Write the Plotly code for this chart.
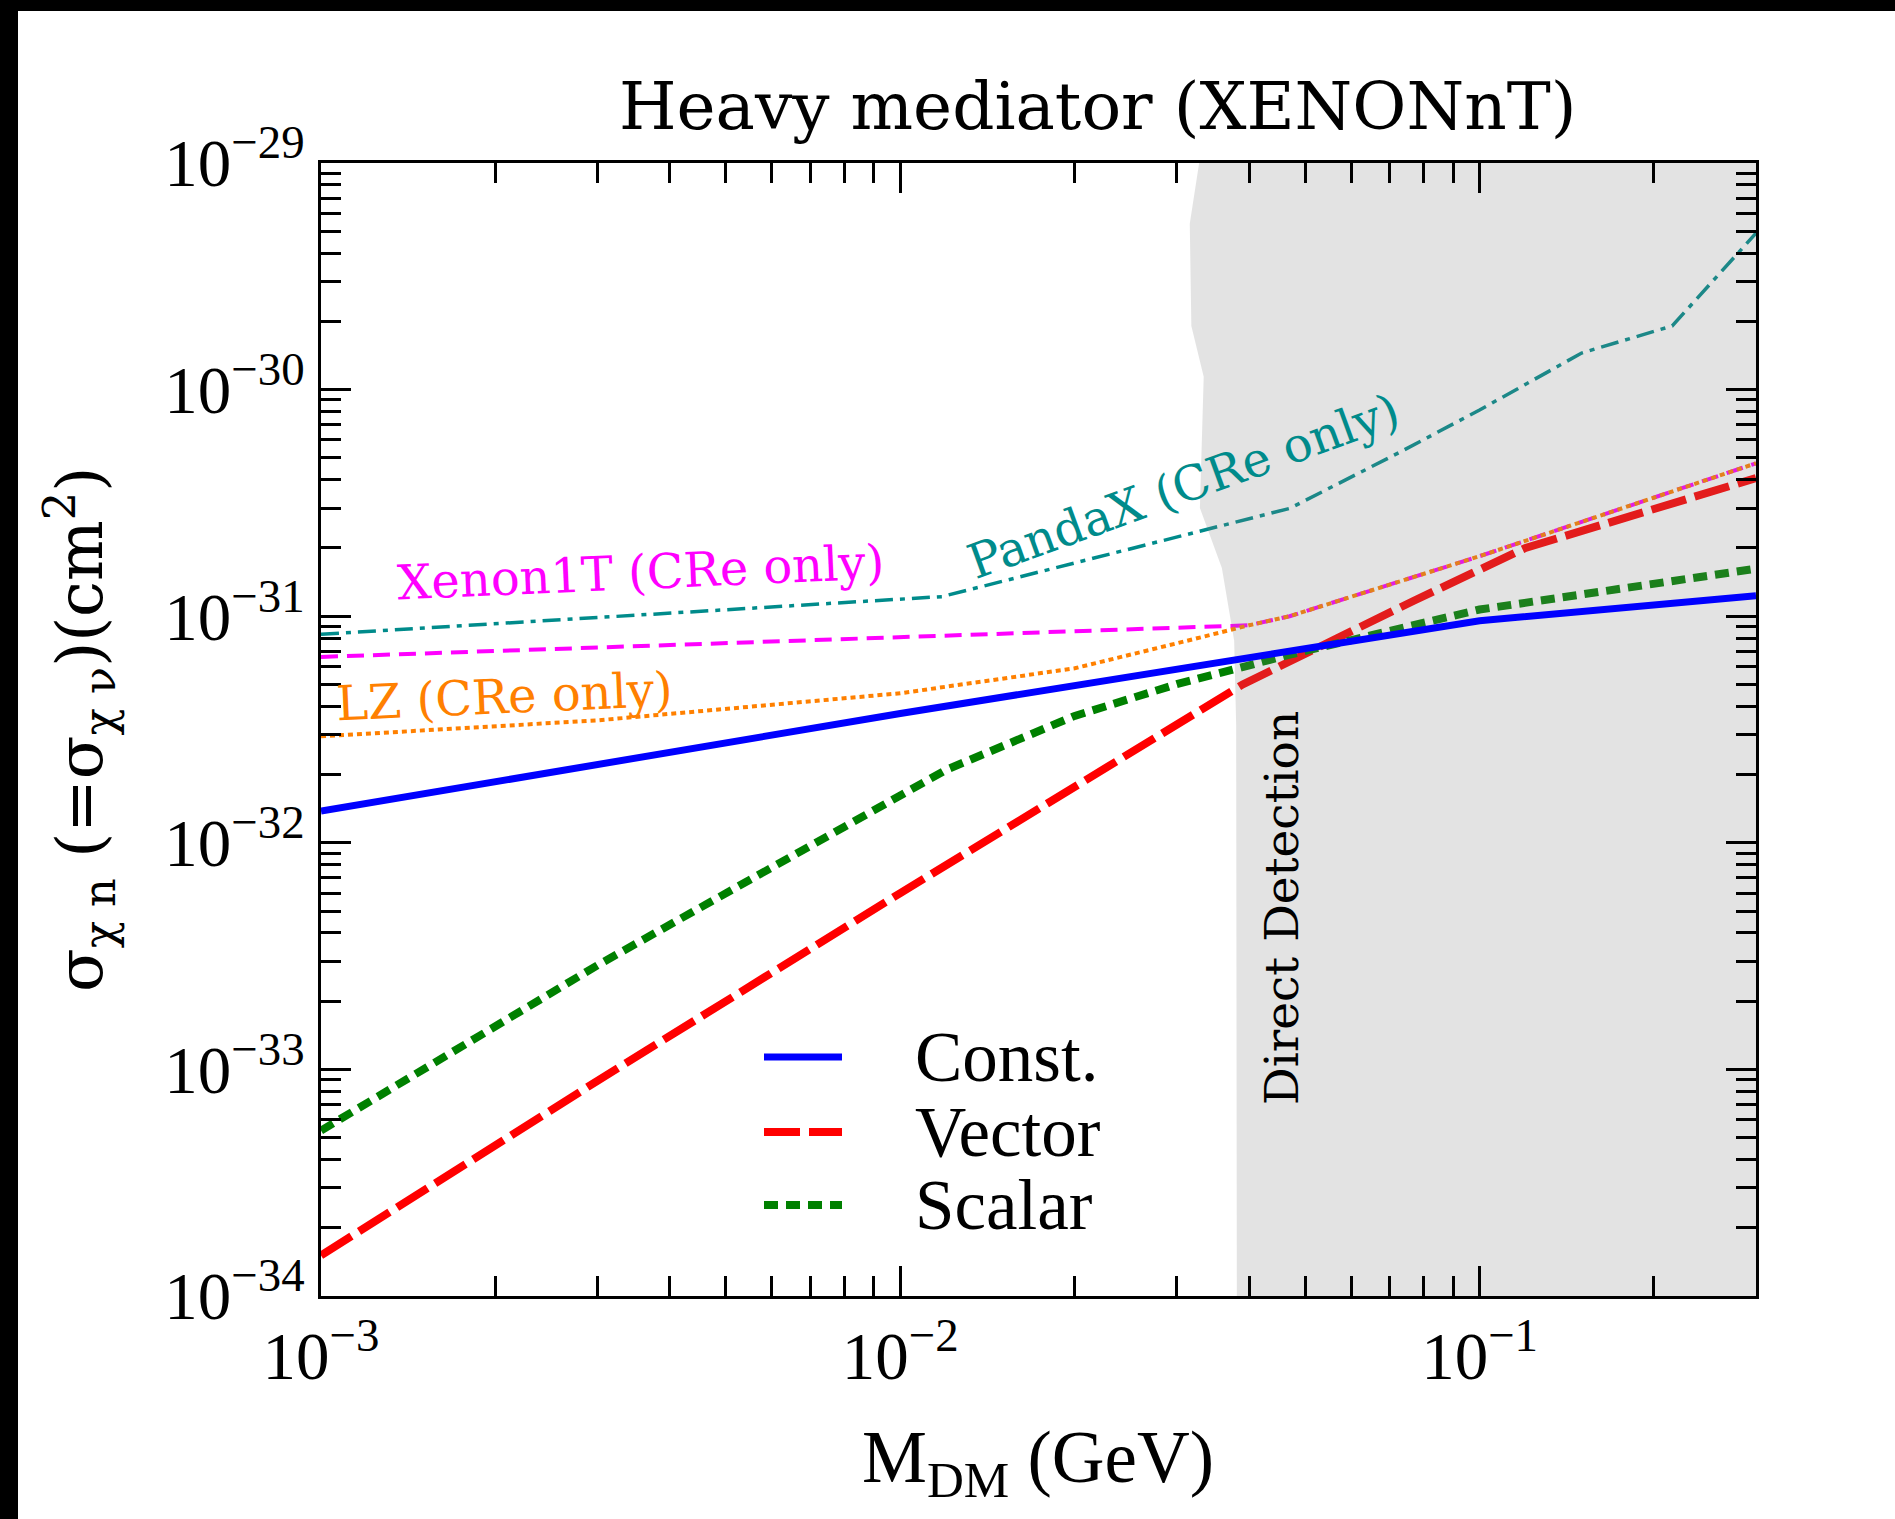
import numpy as np
import plotly.graph_objects as go

# ---- data -------------------------------------------------------------
# dark-matter mass (GeV) and cross sections (cm^2)
m_const = [1e-3, 1e-2, 0.1, 0.3]
sig_const = [1.38e-32, 3.72e-32, 9.55e-32, 1.23e-31]

m_vector = [1e-3, 3e-3, 1e-2, 0.0256, 0.039, 0.077, 0.12, 0.3]
sig_vector = [1.51e-34, 8.9e-34, 6.0e-33, 2.57e-32, 5.0e-32, 1.17e-31, 2.0e-31, 4.07e-31]

m_scalar = [1e-3, 3e-3, 1.2e-2, 0.02, 0.03, 0.047, 0.1, 0.3]
sig_scalar = [5.37e-34, 2.88e-33, 2.1e-32, 3.63e-32, 5.01e-32, 6.76e-32, 1.07e-31, 1.62e-31]

m_xenon1t = [1e-3, 0.04, 0.047, 0.1, 0.3]
sig_xenon1t = [6.61e-32, 9.12e-32, 1.0e-31, 1.84e-31, 4.73e-31]

m_lz = [1e-3, 3e-3, 1e-2, 0.02, 0.03, 0.04, 0.047, 0.1, 0.3]
sig_lz = [2.95e-32, 3.47e-32, 4.57e-32, 5.89e-32, 7.59e-32, 9.12e-32, 1.0e-31, 1.84e-31, 4.73e-31]

m_pandax = [1e-3, 0.0118, 0.047, 0.073, 0.1, 0.15, 0.215, 0.3]
sig_pandax = [8.32e-32, 1.22e-31, 2.99e-31, 5.31e-31, 8.13e-31, 1.45e-30, 1.91e-30, 4.9e-30]

# left edge of the direct-detection exclusion, top to bottom
dd_edge_m = [0.0328, 0.0316, 0.0318, 0.0334, 0.0329, 0.0359, 0.0377, 0.0380, 0.0381]
dd_edge_sig = [1e-29, 5.4e-30, 1.91e-30, 1.14e-30, 3.0e-31, 1.63e-31, 7.8e-32, 3.3e-32, 1e-34]

x_min, x_max = 1e-3, 0.3
y_min, y_max = 1e-34, 1e-29

x_tick_vals = [1e-3, 1e-2, 1e-1]
x_tick_text = ["10<sup>−3</sup>", "10<sup>−2</sup>", "10<sup>−1</sup>"]
y_tick_vals = [1e-34, 1e-33, 1e-32, 1e-31, 1e-30, 1e-29]
y_tick_text = ["10<sup>−34</sup>", "10<sup>−33</sup>", "10<sup>−32</sup>",
               "10<sup>−31</sup>", "10<sup>−30</sup>", "10<sup>−29</sup>"]

legend_labels = ["Const.", "Vector", "Scalar"]

# ---- colours / styles -------------------------------------------------
C_CONST, C_VEC, C_SCA = "#0000ff", "#ff0000", "#008000"
C_XE, C_LZ, C_PX = "#ff00ff", "#ff8000", "#008b8b"
DASH_VEC = "36px,9px"
DASH_SCA = "14px,8px"

SERIF = "Liberation Serif"
DSERIF = "DejaVu Serif"

fig = go.Figure()

# experimental curves
fig.add_trace(go.Scatter(x=m_pandax, y=sig_pandax, mode="lines",
                         line=dict(color=C_PX, width=3.5, dash="18px,7px,5px,7px")))
fig.add_trace(go.Scatter(x=m_xenon1t, y=sig_xenon1t, mode="lines",
                         line=dict(color=C_XE, width=4, dash="17px,9px")))
fig.add_trace(go.Scatter(x=m_lz, y=sig_lz, mode="lines",
                         line=dict(color=C_LZ, width=4, dash="5px,4px")))

# model curves
fig.add_trace(go.Scatter(x=m_vector, y=sig_vector, mode="lines",
                         line=dict(color=C_VEC, width=8, dash=DASH_VEC)))
fig.add_trace(go.Scatter(x=m_scalar, y=sig_scalar, mode="lines",
                         line=dict(color=C_SCA, width=8, dash=DASH_SCA)))

# direct-detection shaded region
dd_x = dd_edge_m + [x_max, x_max]
dd_y = dd_edge_sig + [y_min, y_max]
fig.add_trace(go.Scatter(x=dd_x, y=dd_y, mode="lines", fill="toself",
                         fillcolor="rgba(128,128,128,0.22)",
                         line=dict(width=0, color="rgba(0,0,0,0)"),
                         hoverinfo="skip"))

fig.add_trace(go.Scatter(x=m_const, y=sig_const, mode="lines",
                         line=dict(color=C_CONST, width=7)))

# ---- axes -------------------------------------------------------------
def minor_vals(lo, hi):
    vals = []
    for e in range(int(np.floor(np.log10(lo))), int(np.ceil(np.log10(hi))) + 1):
        for d in range(2, 10):
            v = d * 10.0 ** e
            if lo < v < hi:
                vals.append(v)
    return vals

axis_common = dict(
    type="log", showgrid=False, zeroline=False,
    showline=True, linecolor="black", linewidth=3, mirror="allticks",
    ticks="inside", ticklen=30, tickwidth=3, tickcolor="black",
    tickmode="array",
    tickfont=dict(family=SERIF, size=67, color="black"),
)

fig.update_xaxes(**axis_common, range=[np.log10(x_min), np.log10(x_max)],
                 tickvals=x_tick_vals, ticktext=x_tick_text,
                 minor=dict(ticks="inside", ticklen=20, tickwidth=3, tickcolor="black",
                            tickmode="array", tickvals=minor_vals(x_min, x_max), showgrid=False))
fig.update_yaxes(**axis_common, range=[np.log10(y_min), np.log10(y_max)],
                 tickvals=y_tick_vals, ticktext=y_tick_text,
                 minor=dict(ticks="inside", ticklen=20, tickwidth=3, tickcolor="black",
                            tickmode="array", tickvals=minor_vals(y_min, y_max), showgrid=False))

W, H = 1895, 1519
L, R, T, B = 321, 139, 163, 223
PW, PH = W - L - R, H - T - B

def px(xf):
    return (xf - L) / PW

def py(yf):
    return (H - B - yf) / PH

ann = []
ann.append(dict(text="Heavy mediator (XENONnT)", x=px(1097), y=py(106),
                font=dict(family=DSERIF, size=66, color="black")))
ann.append(dict(text="M<sub>DM</sub> (GeV)", x=px(1038), y=py(1462),
                font=dict(family=SERIF, size=73, color="black")))
ann.append(dict(text="σ<sub>χ n</sub> (=σ<sub>χ ν</sub>)(cm<sup>2</sup>)", x=px(80), y=py(730),
                textangle=-90, font=dict(family=DSERIF, size=64, color="black")))
ann.append(dict(text="Xenon1T (CRe only)", x=px(640), y=py(572), textangle=-2.5,
                font=dict(family=DSERIF, size=48, color=C_XE)))
ann.append(dict(text="LZ (CRe only)", x=px(504), y=py(696), textangle=-2.5,
                font=dict(family=DSERIF, size=48, color=C_LZ)))
ann.append(dict(text="PandaX (CRe only)", x=px(1183), y=py(486), textangle=-20,
                font=dict(family=DSERIF, size=48, color=C_PX)))
ann.append(dict(text="Direct Detection", x=px(1281), y=py(908), textangle=-90,
                font=dict(family=DSERIF, size=47, color="black")))

# legend rows
leg_rows = [(legend_labels[0], C_CONST, "solid", 7, 1057),
            (legend_labels[1], C_VEC, DASH_VEC, 8, 1132),
            (legend_labels[2], C_SCA, DASH_SCA, 8, 1205)]
shapes = []
for label, col, dash, w, yf in leg_rows:
    shapes.append(dict(type="line", xref="paper", yref="paper",
                       x0=px(764), x1=px(842), y0=py(yf), y1=py(yf),
                       line=dict(color=col, width=w, dash=dash)))
    ann.append(dict(text=label, x=px(913), y=py(yf), xanchor="left",
                    font=dict(family=SERIF, size=71, color="black")))

# dark border strips along the top and left edges of the canvas
shapes.append(dict(type="rect", xref="paper", yref="paper", layer="above",
                   x0=px(0), x1=px(18), y0=py(H), y1=py(0),
                   fillcolor="black", line=dict(width=0)))
shapes.append(dict(type="rect", xref="paper", yref="paper", layer="above",
                   x0=px(0), x1=px(W), y0=py(11), y1=py(0),
                   fillcolor="black", line=dict(width=0)))

for a in ann:
    a.setdefault("xref", "paper")
    a.setdefault("yref", "paper")
    a.setdefault("showarrow", False)
    a.setdefault("xanchor", "center")
    a.setdefault("yanchor", "middle")

fig.update_layout(
    width=W, height=H,
    margin=dict(l=L, r=R, t=T, b=B, autoexpand=False),
    paper_bgcolor="white", plot_bgcolor="white",
    showlegend=False,
    annotations=ann, shapes=shapes,
)

fig.write_html("out.html")
